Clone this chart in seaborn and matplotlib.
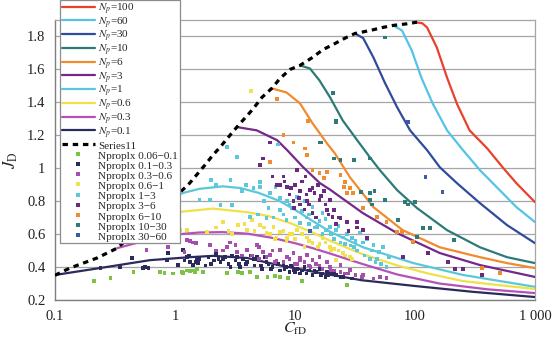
import matplotlib
matplotlib.use("Agg")
import matplotlib.pyplot as plt
from matplotlib.lines import Line2D
import pandas as pd
import seaborn as sns

# ---------------- type curves: JD versus CfD for each proppant number Np ----------------
np_labels = ["100", "60", "30", "10", "6", "3", "1", "0.6", "0.3", "0.1"]
np_colors = ["#e8412c", "#55c3e6", "#2f4b9c", "#2c7b78", "#f28a2e",
             "#74288a", "#5cc7d8", "#f0e04a", "#b552b8", "#2b2a5c"]

cfd_np100 = [100, 115, 126, 152, 185, 224, 285, 400, 537, 700, 1000]
jd_np100 = [1.887, 1.88, 1.855, 1.733, 1.55, 1.39, 1.23, 1.12, 1.006, 0.909, 0.794]

cfd_np60 = [66, 78, 94, 113, 141, 185, 251, 348, 480, 700, 1000]
jd_np60 = [1.867, 1.836, 1.715, 1.55, 1.39, 1.23, 1.11, 0.988, 0.885, 0.764, 0.673]

cfd_np30 = [31.6, 37, 45, 56, 71, 91, 126, 161, 224, 348, 584, 1000]
jd_np30 = [1.818, 1.79, 1.673, 1.52, 1.37, 1.23, 1.11, 1.006, 0.909, 0.788, 0.655, 0.545]

cfd_np10 = [11, 13.3, 16, 19.6, 25, 33, 42, 51, 71, 104, 185, 348, 584, 1000]
jd_np10 = [1.624, 1.606, 1.533, 1.43, 1.29, 1.17, 1.067, 0.988, 0.867, 0.758, 0.624, 0.52, 0.46, 0.424]

cfd_np6 = [6.4, 8.5, 11, 14, 18.5, 21.5, 28.7, 45, 79, 161, 348, 584, 1000]
jd_np6 = [1.485, 1.46, 1.394, 1.273, 1.15, 1.09, 0.945, 0.764, 0.624, 0.52, 0.46, 0.424, 0.394]

cfd_np3 = [3.28, 4.8, 7.1, 8.6, 11.7, 16.1, 19.6, 36.9, 71, 161, 348, 1000]
jd_np3 = [1.25, 1.23, 1.17, 1.11, 1.006, 0.91, 0.87, 0.727, 0.606, 0.485, 0.412, 0.34]

cfd_np1 = [1.0, 1.17, 1.6, 2.5, 3.5, 5, 7.5, 10.4, 14, 19.6, 36.9, 96, 251, 1000]
jd_np1 = [0.83, 0.85, 0.875, 0.89, 0.88, 0.85, 0.8, 0.74, 0.68, 0.615, 0.52, 0.425, 0.352, 0.28]

cfd_np06 = [0.6, 1.1, 2.07, 4, 6, 9.1, 14, 19.6, 36, 71, 130, 251, 500, 1000]
jd_np06 = [0.683, 0.735, 0.755, 0.733, 0.71, 0.667, 0.61, 0.56, 0.48, 0.41, 0.36, 0.315, 0.29, 0.267]

cfd_np03 = [0.33, 0.5, 0.8, 1.1, 1.6, 2.5, 4, 6.6, 10, 14, 20, 36, 71, 160, 400, 1000]
jd_np03 = [0.515, 0.55, 0.58, 0.6, 0.61, 0.612, 0.603, 0.576, 0.545, 0.515, 0.48, 0.42, 0.355, 0.3, 0.265, 0.242]

cfd_np01 = [0.1, 0.237, 0.62, 1.33, 2.07, 4, 7.5, 16, 36, 100, 300, 1000]
jd_np01 = [0.352, 0.394, 0.442, 0.46, 0.468, 0.455, 0.41, 0.365, 0.32, 0.285, 0.25, 0.218]

# envelope of maximum JD (Series11)
cfd_env = [0.1, 0.133, 0.224, 0.33, 1.28, 1.78, 2.07, 2.37, 2.87, 3.28, 4.47, 5.3, 6.4,
           7.5, 9.1, 11, 13.8, 17.1, 21.5, 26.1, 31.6, 42, 54, 65.6, 86, 104]
jd_env = [0.35, 0.394, 0.455, 0.515, 0.897, 1.02, 1.08, 1.127, 1.2, 1.25, 1.36, 1.43, 1.485,
          1.545, 1.6, 1.624, 1.67, 1.72, 1.757, 1.79, 1.818, 1.836, 1.855, 1.867, 1.877, 1.887]

# ---------------- field data grouped by Nproplx ----------------
grp_labels = ["0.06\u22120.1", "0.1\u22120.3", "0.3\u22120.6", "0.6\u22121", "1\u22123",
              "3\u22126", "6\u221210", "10\u221230", "30\u221260"]
grp_colors = ["#7cc243", "#2b2a5c", "#a44fab", "#f2e04c", "#5cc8dc",
              "#6a2a80", "#f28a2e", "#2c7b78", "#3c5aa8"]

cfd_g1 = [0.21, 0.29, 0.45, 0.75, 0.82, 0.96, 1.14, 1.26, 1.42, 1.53, 1.17, 1.33, 1.47, 1.71,
          2.7, 3.35, 3.6, 4.2, 4.8, 5.9, 6.8, 7.5, 8.7, 11.4, 27]
jd_g1 = [0.315, 0.333, 0.37, 0.37, 0.364, 0.36, 0.37, 0.38, 0.38, 0.39, 0.365, 0.375, 0.368,
         0.37, 0.364, 0.37, 0.362, 0.37, 0.34, 0.34, 0.345, 0.338, 0.333, 0.315, 0.29]

cfd_g2 = [0.24, 0.35, 0.44, 0.54, 0.56, 0.6, 0.86, 0.87, 1.06, 1.17, 1.26, 1.33, 1.42, 1.53,
          1.56, 1.2, 1.3, 1.5, 1.6, 1.8, 1.9, 2.1, 2.2, 2.4, 2.6, 2.8, 3.0, 3.2, 3.5, 3.7,
          4.0, 4.3, 4.6, 5.0, 5.3, 5.6, 6.0, 6.5, 7.0, 7.5, 8.0, 8.5, 9.0, 9.5, 10.5, 11,
          12, 13, 14, 15, 16, 17, 18, 20, 22, 25, 30, 2.3, 3.4, 4.8, 6.8, 9.8, 13.5, 19,
          2.0, 2.5, 2.9, 3.3, 3.9, 4.5, 5.2, 5.8, 6.3, 7.2, 8.2, 9.2, 10, 11.5, 12.5,
          14.5, 16.5, 18.5, 21, 24]
jd_g2 = [0.394, 0.4, 0.455, 0.394, 0.4, 0.394, 0.442, 0.485, 0.412, 0.503, 0.46, 0.43, 0.412,
         0.455, 0.424, 0.44, 0.47, 0.43, 0.45, 0.41, 0.46, 0.44, 0.48, 0.43, 0.46, 0.42,
         0.47, 0.44, 0.40, 0.45, 0.43, 0.47, 0.41, 0.44, 0.39, 0.46, 0.42, 0.40, 0.44,
         0.38, 0.42, 0.40, 0.37, 0.41, 0.39, 0.36, 0.40, 0.38, 0.35, 0.37, 0.39, 0.36,
         0.34, 0.37, 0.35, 0.34, 0.33, 0.45, 0.42, 0.46, 0.43, 0.38, 0.40, 0.35,
         0.42, 0.45, 0.40, 0.46, 0.42, 0.45, 0.41, 0.43, 0.39, 0.42, 0.39, 0.41, 0.37,
         0.38, 0.36, 0.38, 0.35, 0.37, 0.36, 0.34]

cfd_g3 = [0.58, 0.87, 1.2, 1.33, 1.5, 1.42, 1.26, 1.95, 2.7, 2.87, 3.2, 4.0, 4.8, 5.4, 6.2,
          7.5, 8.6, 9.7, 11, 12.6, 14, 16, 18.5, 19.6, 23.9, 28.7, 36.9, 51, 58, 2.2, 3.6,
          5.0, 6.8, 10, 13, 21, 26, 2.5, 3.3, 4.4, 5.8, 7, 8, 9, 10.5, 12, 13.5, 15, 17,
          20, 24, 28, 32, 36, 45, 5, 6.5, 11, 16]
jd_g3 = [0.503, 0.52, 0.49, 0.56, 0.545, 0.55, 0.564, 0.533, 0.52, 0.55, 0.533, 0.503, 0.533,
         0.49, 0.473, 0.503, 0.46, 0.485, 0.455, 0.473, 0.442, 0.46, 0.43, 0.40, 0.412,
         0.382, 0.352, 0.34, 0.333, 0.5, 0.47, 0.45, 0.43, 0.42, 0.41, 0.38, 0.36,
         0.5, 0.49, 0.47, 0.46, 0.44, 0.43, 0.45, 0.42, 0.43, 0.40, 0.42, 0.39, 0.38,
         0.37, 0.36, 0.35, 0.34, 0.33, 0.52, 0.5, 0.44, 0.41]

cfd_g4 = [1.1, 1.26, 1.85, 2.5, 3.35, 4.0, 4.4, 5.1, 5.8, 6.6, 7.5, 8.6, 10.4, 12.6, 14,
          17, 19.6, 21, 25, 28.7, 22, 4.3, 3.0, 9.5, 15.5, 2.2, 2.8, 3.8, 4.6, 5.5, 6.2,
          7, 8, 9, 10, 11.5, 13, 16, 18, 20, 23, 26, 30, 12, 8.5, 6.8]
jd_g4 = [0.624, 0.624, 0.612, 0.673, 0.655, 0.624, 0.685, 0.655, 0.606, 0.642, 0.612, 0.576,
         0.624, 0.58, 0.545, 0.576, 0.52, 0.51, 0.485, 0.46, 0.442, 1.47, 0.6, 0.6, 0.52,
         0.64, 0.62, 0.66, 0.62, 0.64, 0.6, 0.58, 0.62, 0.6, 0.57, 0.6, 0.56, 0.54, 0.55,
         0.5, 0.5, 0.47, 0.45, 0.52, 0.56, 0.57]

cfd_g5 = [3.3, 5.1, 5.1, 6.2, 6.9, 7.5, 8.6, 10.4, 12, 14, 17, 18, 1.6, 1.95, 2.4, 3.0, 4.2,
          4.9, 5.8, 6.6, 7.5, 8.5, 11, 12.5, 15.2, 18.2, 19.6, 22, 25, 30, 37, 45, 54, 61,
          58, 48, 52, 2.7, 7.2, 2.0, 3.9, 9.5, 13, 2.2, 2.9, 3.6, 4.5, 5.5, 6.0, 8.0, 9.0,
          10, 11.5, 13, 16, 20, 23, 27, 32, 35, 40, 44, 50, 24, 29, 33, 38, 42, 47, 17, 21,
          26, 31, 14.5]
jd_g5 = [1.067, 0.915, 0.885, 0.848, 0.885, 0.82, 0.8, 0.824, 0.8, 0.764, 0.727, 0.69, 0.806,
         0.806, 0.776, 0.776, 0.703, 0.72, 0.697, 0.7, 0.745, 0.685, 0.667, 0.7, 0.642,
         0.625, 0.642, 0.624, 0.58, 0.576, 0.55, 0.533, 0.52, 0.46, 0.4, 0.45, 0.42, 1.127,
         1.145, 0.93, 0.9, 0.76, 0.72, 0.9, 0.93, 0.86, 0.88, 0.8, 0.76, 0.72, 0.78, 0.7,
         0.74, 0.66, 0.68, 0.6, 0.65, 0.6, 0.56, 0.61, 0.57, 0.5, 0.49, 0.55, 0.53, 0.5,
         0.47, 0.45, 0.43, 0.6, 0.57, 0.54, 0.52, 0.64]

cfd_g6 = [5.4, 5.1, 7.5, 8.6, 9.3, 10.4, 11, 13.3, 14.5, 16, 18.5, 12.6, 14, 11, 9.7, 17.5,
          6.2, 19.6, 20.5, 24, 21, 27, 33, 37, 40, 33, 79, 129, 189, 215, 251, 362, 8.0,
          12, 15, 22, 28, 6.5, 7, 8.2, 9, 10, 11.5, 12.5, 13, 14, 15.5, 16.5, 18, 19, 23,
          10.8, 12.2, 9.8]
jd_g6 = [1.06, 1.018, 0.897, 0.885, 0.88, 0.988, 0.86, 0.867, 0.85, 0.806, 0.745, 0.8,
         0.727, 0.78, 0.8, 0.86, 1.157, 0.806, 0.703, 0.697, 0.745, 0.673, 0.673, 0.624,
         0.576, 0.64, 0.46, 0.485, 0.43, 0.388, 0.388, 0.352, 0.95, 0.75, 0.7, 0.66, 0.62,
         0.95, 0.9, 0.92, 0.84, 0.9, 0.92, 0.84, 0.78, 0.88, 0.9, 0.83, 0.78, 0.72, 0.7,
         0.82, 0.95, 0.76]

cfd_g7 = [7.1, 8.0, 9.7, 12.1, 12.9, 6.2, 12.6, 14, 16, 18.5, 17.5, 24, 26, 25.5, 28.7, 27,
          30.5, 37, 48, 58, 71, 78, 96, 362, 513]
jd_g7 = [1.42, 1.2, 1.157, 1.12, 1.285, 1.036, 1.08, 0.988, 0.97, 0.976, 0.94, 0.958, 0.915,
         0.885, 0.879, 0.848, 0.848, 0.757, 0.703, 0.673, 0.612, 0.612, 0.552, 0.394, 0.364]

cfd_g8 = [16, 20.7, 22, 16.5, 56, 22, 21, 24, 31, 42, 35.7, 42, 46, 42, 44, 56, 72, 83, 87,
          100, 116, 133, 104, 211]
jd_g8 = [1.157, 1.455, 1.29, 1.157, 1.794, 1.28, 1.06, 1.048, 1.048, 1.06, 0.855, 0.848, 0.86,
         0.806, 0.78, 0.806, 0.685, 0.794, 0.78, 0.794, 0.636, 0.636, 0.582, 0.564]

cfd_g9 = [122, 170, 87, 13.3]
jd_g9 = [0.945, 0.855, 1.28, 0.62]

# ---------------- tidy tables ----------------
curve_cfd = [cfd_np100, cfd_np60, cfd_np30, cfd_np10, cfd_np6, cfd_np3,
             cfd_np1, cfd_np06, cfd_np03, cfd_np01]
curve_jd = [jd_np100, jd_np60, jd_np30, jd_np10, jd_np6, jd_np3,
            jd_np1, jd_np06, jd_np03, jd_np01]
curves = pd.concat(
    [pd.DataFrame({"CfD": c, "JD": j, "Np": lab})
     for c, j, lab in zip(curve_cfd, curve_jd, np_labels)],
    ignore_index=True)

pts_cfd = [cfd_g1, cfd_g2, cfd_g3, cfd_g4, cfd_g5, cfd_g6, cfd_g7, cfd_g8, cfd_g9]
pts_jd = [jd_g1, jd_g2, jd_g3, jd_g4, jd_g5, jd_g6, jd_g7, jd_g8, jd_g9]
points = pd.concat(
    [pd.DataFrame({"CfD": c, "JD": j, "grp": lab})
     for c, j, lab in zip(pts_cfd, pts_jd, grp_labels)],
    ignore_index=True)

envelope = pd.DataFrame({"CfD": cfd_env, "JD": jd_env})

# ---------------- figure ----------------
sns.set_style("white")
plt.rcParams["font.family"] = ["Liberation Serif", "DejaVu Serif"]
plt.rcParams["mathtext.fontset"] = "stix"

fig = plt.figure(figsize=(5.54, 3.41), dpi=100)
ax = fig.add_axes([55 / 554, 41 / 341, 480 / 554, 280 / 341])

sns.lineplot(data=curves, x="CfD", y="JD", hue="Np", hue_order=np_labels,
             palette=dict(zip(np_labels, np_colors)), estimator=None, sort=True,
             linewidth=1.6, legend=False, ax=ax, zorder=3)
sns.lineplot(data=envelope, x="CfD", y="JD", color="black", linewidth=2.3,
             linestyle=(0, (1.7, 1.5)), dash_capstyle="butt", estimator=None,
             legend=False, ax=ax, zorder=4)
sns.scatterplot(data=points, x="CfD", y="JD", hue="grp", hue_order=grp_labels,
                palette=dict(zip(grp_labels, grp_colors)), marker="s", s=7,
                linewidth=0, legend=False, ax=ax, zorder=5)

ax.set_xscale("log")
ax.set_xlim(0.1, 1000)
ax.set_ylim(0.2, 1.9)
ax.set_xticks([0.1, 1, 10, 100, 1000])
ax.set_xticklabels(["0.1", "1", "10", "100", "1 000"])
ax.minorticks_off()
yt = [0.2, 0.4, 0.6, 0.8, 1.0, 1.2, 1.4, 1.6, 1.8]
ax.set_yticks(yt)
ax.set_yticklabels(["0.2", "0.4", "0.6", "0.8", "1", "1.2", "1.4", "1.6", "1.8"])
ax.tick_params(axis="both", labelsize=10.5, colors="#7f7f7f", labelcolor="#222222",
               direction="out", length=5, width=0.9, pad=2)
ax.yaxis.grid(True, color="#a6a6a6", linewidth=0.9)
ax.set_axisbelow(True)
for side in ["left", "bottom"]:
    ax.spines[side].set_color("#7f7f7f")
    ax.spines[side].set_linewidth(1.0)
for side in ["top", "right"]:
    ax.spines[side].set_color("#a6a6a6")
    ax.spines[side].set_linewidth(0.9)

ax.set_xlabel(r"$C_{\mathrm{fD}}$", fontsize=11.5, labelpad=-1)
ax.set_ylabel(r"$J_{\mathrm{D}}$", fontsize=12, labelpad=5)

# legend: type curves, envelope, then data groups
handles, labels = [], []
for lab, col in zip(np_labels, np_colors):
    handles.append(Line2D([], [], color=col, linewidth=1.6))
    labels.append(r"$N_p$=" + lab)
handles.append(Line2D([], [], color="black", linewidth=2.3, linestyle=(0, (1.7, 1.5)),
                      dash_capstyle="butt"))
labels.append("Series11")
for lab, col in zip(grp_labels, grp_colors):
    handles.append(Line2D([], [], color=col, linestyle="none", marker="s",
                          markersize=2.4, markeredgewidth=0))
    labels.append("Nproplx " + lab)

leg = ax.legend(handles, labels, loc="upper left", bbox_to_anchor=(60 / 554, 1.0),
                bbox_transform=fig.transFigure, fontsize=8.0, frameon=True,
                fancybox=False, framealpha=1, edgecolor="#8c8c8c", borderpad=0.15,
                labelspacing=-0.12, handlelength=3.0, handletextpad=0.3,
                handleheight=1.2, borderaxespad=0)
leg.get_frame().set_linewidth(0.9)
leg.set_zorder(10)

fig.savefig("out.png", dpi=100)
